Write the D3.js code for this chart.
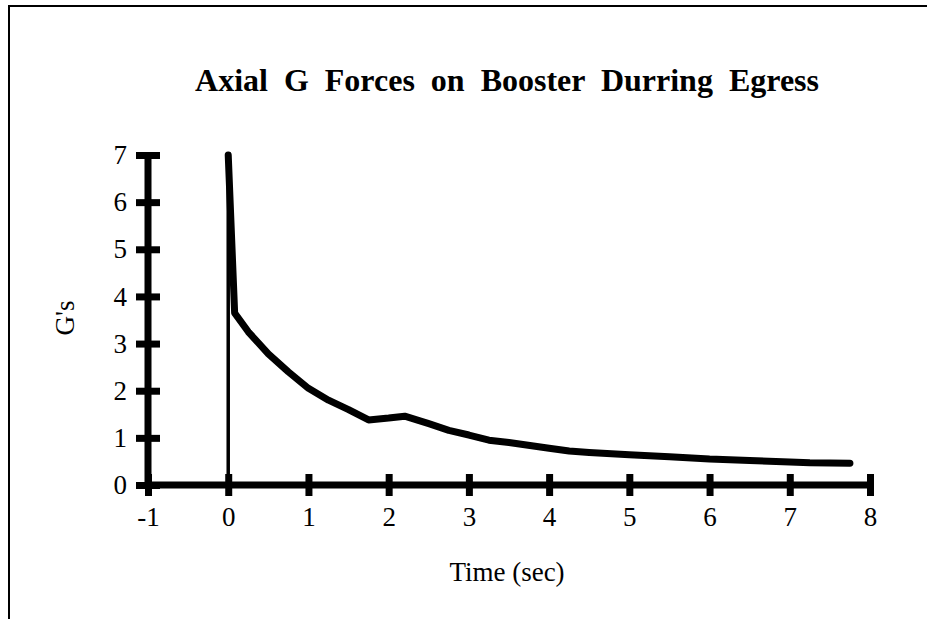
<!DOCTYPE html>
<html>
<head>
<meta charset="utf-8">
<script src="https://cdn.jsdelivr.net/npm/d3@7"></script>
<style>
  html, body { margin: 0; padding: 0; background: #fff; }
  svg { display: block; }
</style>
</head>
<body>
<svg id="chart" width="927" height="619"></svg>
<script>
// Axial G load on the booster after egress
const timeSec = [0, 0.08, 0.25, 0.5, 0.75, 1.0, 1.25, 1.5, 1.75, 2.0, 2.2, 2.5, 2.75, 3.0, 3.25, 3.5, 4.0, 4.25, 4.5, 5.0, 5.5, 6.0, 6.5, 7.0, 7.25, 7.75];
const gForce  = [7, 3.65, 3.25, 2.78, 2.4, 2.05, 1.8, 1.6, 1.38, 1.42, 1.46, 1.3, 1.16, 1.06, 0.95, 0.9, 0.78, 0.72, 0.69, 0.64, 0.6, 0.55, 0.52, 0.49, 0.47, 0.46];

// initial jump at ignition (t = 0)
const riseTime = [0, 0];
const riseG    = [0, 7];

const xTicks = [-1, 0, 1, 2, 3, 4, 5, 6, 7, 8];
const yTicks = [0, 1, 2, 3, 4, 5, 6, 7];

const titleText = "Axial G Forces on Booster Durring Egress";
const xLabel = "Time (sec)";
const yLabel = "G's";

const svg = d3.select("#chart");
const W = 927, H = 619;
const serif = "'Liberation Serif', 'Times New Roman', serif";
const fmt = d => String(d);   // plain hyphen for negatives

// page frame (top and left rules)
svg.append("line").attr("x1", 8).attr("y1", 6).attr("x2", W).attr("y2", 6)
  .attr("stroke", "#000").attr("stroke-width", 2);
svg.append("line").attr("x1", 9).attr("y1", 5).attr("x2", 9).attr("y2", H)
  .attr("stroke", "#000").attr("stroke-width", 2);

const x = d3.scaleLinear().domain([-1, 8]).range([148, 870]);
const y = d3.scaleLinear().domain([0, 7]).range([485, 155]);

// title
svg.append("text")
  .attr("x", 507).attr("y", 91)
  .attr("text-anchor", "middle")
  .attr("font-family", serif)
  .attr("font-weight", "bold")
  .attr("font-size", 32)
  .attr("word-spacing", 8)
  .text(titleText);

// y axis
const yAxis = d3.axisLeft(y).tickValues(yTicks).tickSize(0).tickPadding(21)
  .tickFormat(fmt);
const gy = svg.append("g").attr("transform", `translate(${x(-1)},0)`).call(yAxis);
gy.select(".domain").remove();
gy.selectAll("text").attr("font-family", serif).attr("font-size", 27).attr("fill", "#000");
gy.selectAll(".tick").append("line")
  .attr("x1", -12).attr("x2", 12)
  .attr("stroke", "#000").attr("stroke-width", 7);
gy.append("line")
  .attr("x1", 0).attr("x2", 0)
  .attr("y1", y(7) - 3).attr("y2", y(0) + 3)
  .attr("stroke", "#000").attr("stroke-width", 7);

// x axis
const xAxis = d3.axisBottom(x).tickValues(xTicks).tickSize(0).tickPadding(22)
  .tickFormat(fmt);
const gx = svg.append("g").attr("transform", `translate(0,${y(0)})`).call(xAxis);
gx.select(".domain").remove();
gx.selectAll("text").attr("font-family", serif).attr("font-size", 27).attr("fill", "#000");
gx.selectAll(".tick").append("line")
  .attr("y1", -11).attr("y2", 11)
  .attr("stroke", "#000").attr("stroke-width", 7);
gx.append("line")
  .attr("x1", x(-1) - 3).attr("x2", x(8) + 3)
  .attr("y1", 0).attr("y2", 0)
  .attr("stroke", "#000").attr("stroke-width", 7);

// axis titles
svg.append("text")
  .attr("x", 507).attr("y", 581)
  .attr("text-anchor", "middle")
  .attr("font-family", serif)
  .attr("font-size", 27)
  .text(xLabel);

svg.append("text")
  .attr("transform", `translate(74,${y(3.5) - 2}) rotate(-90)`)
  .attr("text-anchor", "middle")
  .attr("font-family", serif)
  .attr("font-size", 27)
  .text(yLabel);

// data
const line = d3.line().x(d => x(d[0])).y(d => y(d[1]));

svg.append("path")
  .datum(riseTime.map((t, i) => [t, riseG[i]]))
  .attr("d", line)
  .attr("fill", "none")
  .attr("stroke", "#000")
  .attr("stroke-width", 3.5);

svg.append("path")
  .datum(timeSec.map((t, i) => [t, gForce[i]]))
  .attr("d", line)
  .attr("fill", "none")
  .attr("stroke", "#000")
  .attr("stroke-width", 7)
  .attr("stroke-linejoin", "round")
  .attr("stroke-linecap", "round");
</script>
</body>
</html>
